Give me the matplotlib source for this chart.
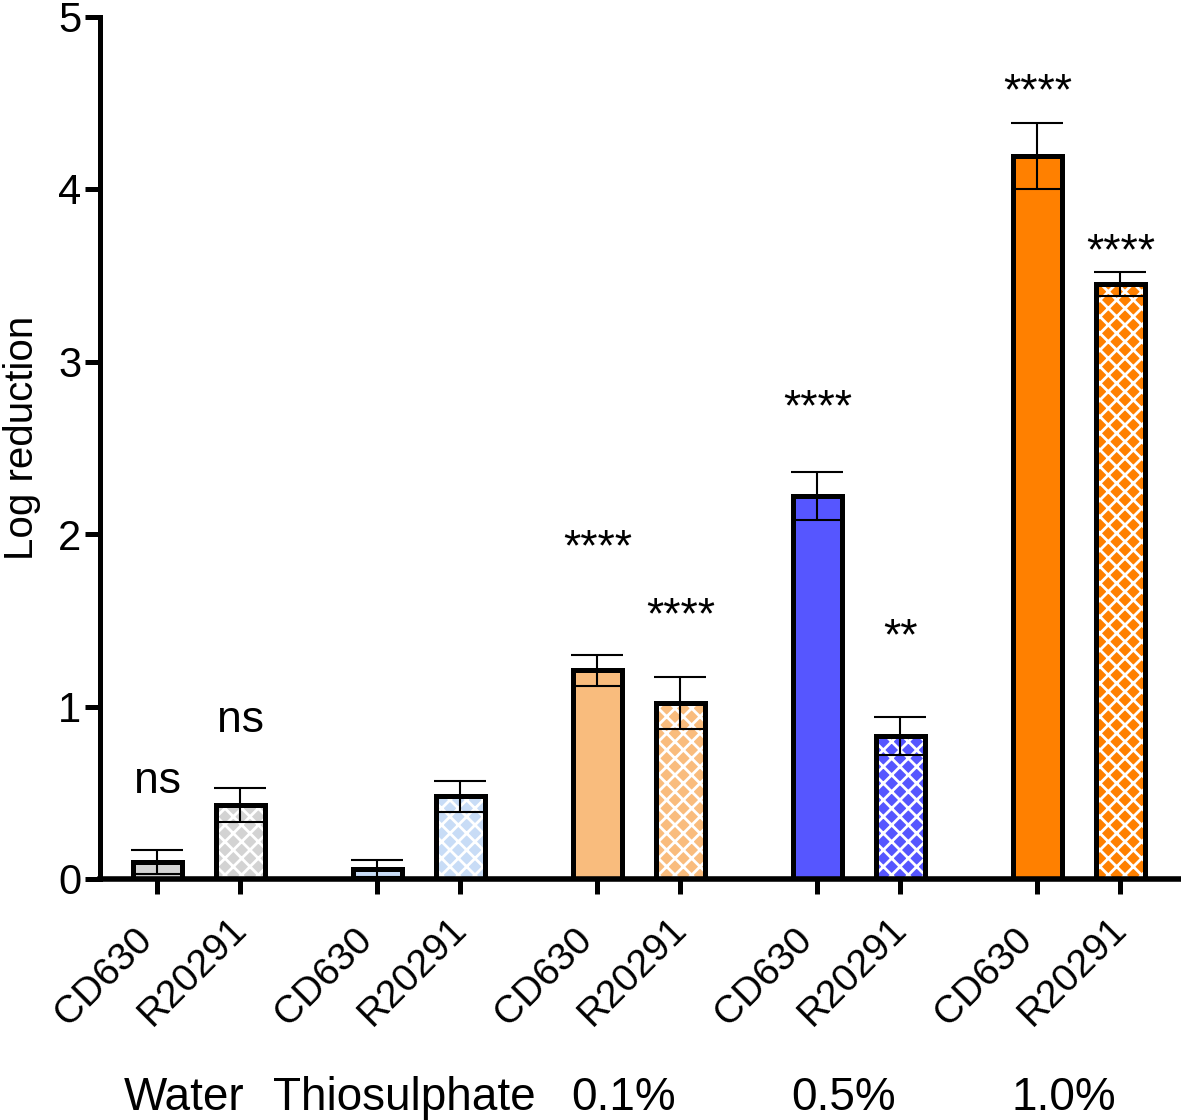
import numpy as np
import matplotlib
matplotlib.use("Agg")
import matplotlib.pyplot as plt
from matplotlib.transforms import ScaledTranslation, blended_transform_factory

plt.rcParams['font.family'] = ['Liberation Sans', 'DejaVu Sans']
plt.rcParams['hatch.linewidth'] = 2.0

# данные
groups = ['Water', 'Thiosulphate', '0.1%', '0.5%', '1.0%']
strains = ['CD630', 'R20291']
cd630_mean = [0.10, 0.06, 1.21, 2.22, 4.19]
cd630_err = [0.07, 0.05, 0.09, 0.14, 0.19]
r20291_mean = [0.43, 0.48, 1.02, 0.83, 3.45]
r20291_err = [0.10, 0.09, 0.15, 0.11, 0.07]
cd630_sig = ['ns', '', '****', '****', '****']
r20291_sig = ['ns', '', '****', '**', '****']
cd630_sig_y = [0.50, np.nan, 1.85, 2.66, 4.49]
r20291_sig_y = [0.85, np.nan, 1.455, 1.33, 3.565]
colors = ['#D3D3D3', '#C8DCF6', '#F9BC7D', '#5656FF', '#FF8000']

gap = 2.65
width = 0.59
x_cd = np.arange(len(groups)) * gap
x_r = x_cd + 1

fig = plt.figure(figsize=[11.81, 11.2], dpi=100)
ax = fig.add_axes([100 / 1181, 1 - 879 / 1120, 1081 / 1181, 862.5 / 1120])

# CD630 - сплошная заливка
ax.bar(x_cd, cd630_mean, width=width, color=colors, edgecolor='black', linewidth=3.6, zorder=2)
# R20291 - штриховка ромбами
ax.bar(x_r, r20291_mean, width=width, color=colors, edgecolor='white', linewidth=0, hatch='xx', zorder=2)
ax.bar(x_r, r20291_mean, width=width, fill=False, edgecolor='black', linewidth=3.6, zorder=3)

ax.errorbar(x_cd, cd630_mean, yerr=cd630_err, fmt='none', ecolor='black',
            elinewidth=1.5, capsize=19, capthick=1.5, zorder=5)
ax.errorbar(x_r, r20291_mean, yerr=r20291_err, fmt='none', ecolor='black',
            elinewidth=1.5, capsize=19, capthick=1.5, zorder=5)

for xs, sig, sy in [(x_cd, cd630_sig, cd630_sig_y), (x_r, r20291_sig, r20291_sig_y)]:
    for xi, s, yi in zip(xs, sig, sy):
        if s:
            ax.text(xi, yi, s, ha='center', va='baseline', fontsize=32)

ax.set_xlim(-0.69, 12.33)
ax.set_ylim(0, 5)
ax.set_yticks(range(6))
ax.tick_params(axis='y', labelsize=30, length=11, width=3.6, pad=2.5)
ax.set_ylabel('Log reduction', fontsize=29)
ax.yaxis.set_label_coords(-0.0546, 0.512)

ax.set_xticks(np.ravel(np.column_stack([x_cd, x_r])))
ax.set_xticklabels(strains * len(groups), rotation=45, ha='left', va='baseline',
                   rotation_mode='anchor', fontsize=28)
ax.tick_params(axis='x', length=11, width=3.6, pad=95.5)
# сдвиг подписей влево, как в оригинале
shift = ScaledTranslation(-0.89, 0, fig.dpi_scale_trans)
for lbl in ax.get_xticklabels():
    lbl.set_transform(lbl.get_transform() + shift)

trans = blended_transform_factory(ax.transData, ax.transAxes)
for xc, g in zip((x_cd + x_r) / 2, groups):
    ax.text(xc - 0.18, -0.268, g, transform=trans, ha='center', va='baseline', fontsize=33)

ax.spines['top'].set_visible(False)
ax.spines['right'].set_visible(False)
ax.spines['left'].set_linewidth(3.6)
ax.spines['bottom'].set_linewidth(4)

plt.savefig('out.png', dpi=100)
